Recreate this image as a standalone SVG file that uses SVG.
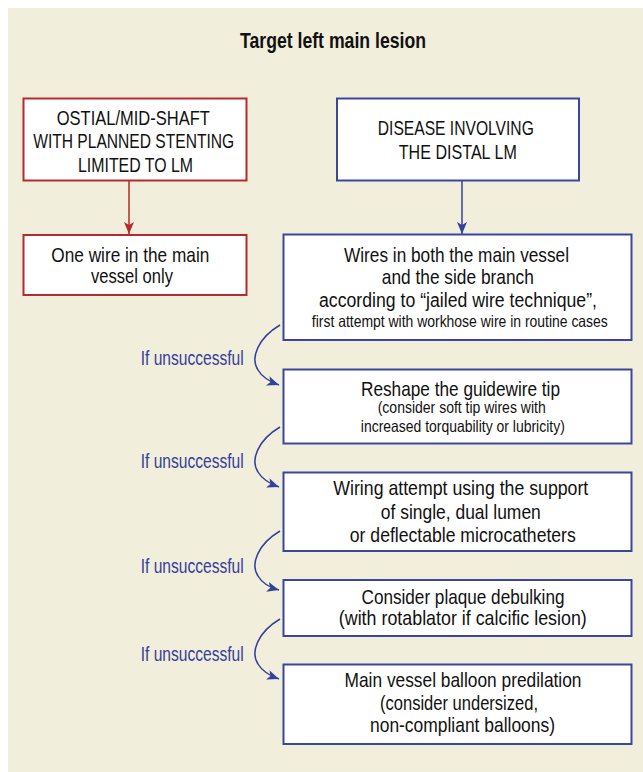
<svg xmlns="http://www.w3.org/2000/svg" width="643" height="772" viewBox="0 0 643 772">
<style>
.bg{fill:#f2eedc}
.box{fill:#ffffff;stroke-width:2}
.rb{stroke:#b52a2e}
.bb{stroke:#3a479c}
text{font-family:"Liberation Sans Narrow","Liberation Sans",Arial,sans-serif;fill:#111;text-anchor:middle}
.t{font-size:21px}
.s{font-size:16.5px}
.title{font-size:21.5px;font-weight:bold}
.lbl{font-size:19.5px;fill:#34409a;text-anchor:start}
.cb{fill:none;stroke:#34409a;stroke-width:1.5}
.cr{fill:none;stroke:#b52a2e;stroke-width:1.5}
</style>
<defs>
<marker id="ab" viewBox="0 0 12 10" refX="12" refY="5" markerWidth="12" markerHeight="10" markerUnits="userSpaceOnUse" orient="auto"><path d="M0,0 L12,5 L0,10 L3,5 z" fill="#34409a"/></marker>
<marker id="ar" viewBox="0 0 12 10" refX="12" refY="5" markerWidth="12" markerHeight="10" markerUnits="userSpaceOnUse" orient="auto"><path d="M0,0 L12,5 L0,10 L3,5 z" fill="#b52a2e"/></marker>
</defs>
<rect class="bg" x="8" y="8" width="635" height="764"/>
<text class="title" x="333" y="48" textLength="186" lengthAdjust="spacingAndGlyphs">Target left main lesion</text>

<g id="ostial">
<rect class="box rb" x="23.5" y="98.5" width="223" height="82"/>
<text class="t" x="133.3" y="125" textLength="153" lengthAdjust="spacingAndGlyphs">OSTIAL/MID-SHAFT</text>
<text class="t" x="133.7" y="148.3" textLength="201" lengthAdjust="spacingAndGlyphs">WITH PLANNED STENTING</text>
<text class="t" x="135.5" y="171.7" textLength="115" lengthAdjust="spacingAndGlyphs">LIMITED TO LM</text>
</g>
<g id="onewire">
<rect class="box rb" x="23.5" y="235" width="223" height="60"/>
<text class="t" x="130.3" y="261.7" textLength="158" lengthAdjust="spacingAndGlyphs">One wire in the main</text>
<text class="t" x="132" y="283" textLength="82" lengthAdjust="spacingAndGlyphs">vessel only</text>
</g>
<g id="distal">
<rect class="box bb" x="337" y="98.5" width="242" height="82"/>
<text class="t" x="455.8" y="135" textLength="156" lengthAdjust="spacingAndGlyphs">DISEASE INVOLVING</text>
<text class="t" x="457.8" y="159" textLength="118" lengthAdjust="spacingAndGlyphs">THE DISTAL LM</text>
</g>
<g id="wires">
<rect class="box bb" x="283.5" y="234.5" width="348" height="105.5"/>
<text class="t" x="456.5" y="261.7" textLength="225" lengthAdjust="spacingAndGlyphs">Wires in both the main vessel</text>
<text class="t" x="457.8" y="284" textLength="152" lengthAdjust="spacingAndGlyphs">and the side branch</text>
<text class="t" transform="translate(458,306.7) scale(0.8,1)" x="0" y="0" textLength="347.5" lengthAdjust="spacingAndGlyphs">according to “jailed wire technique”,</text>
<text class="s" transform="translate(459.8,326.7) scale(0.8,1)" x="0" y="0" textLength="370" lengthAdjust="spacingAndGlyphs">first attempt with workhose wire in routine cases</text>
</g>
<g id="reshape">
<rect class="box bb" x="283.5" y="369.5" width="348" height="74"/>
<text class="t" x="460.5" y="396" textLength="199" lengthAdjust="spacingAndGlyphs">Reshape the guidewire tip</text>
<text class="s" x="461.7" y="413.3" textLength="168" lengthAdjust="spacingAndGlyphs">(consider soft tip wires with</text>
<text class="s" x="462.8" y="431.7" textLength="204" lengthAdjust="spacingAndGlyphs">increased torquability or lubricity)</text>
</g>
<g id="wiring">
<rect class="box bb" x="283.5" y="472.5" width="348" height="78.5"/>
<text class="t" x="460.8" y="495" textLength="255" lengthAdjust="spacingAndGlyphs">Wiring attempt using the support</text>
<text class="t" x="460.8" y="519" textLength="160" lengthAdjust="spacingAndGlyphs">of single, dual lumen</text>
<text class="t" x="462.8" y="541.7" textLength="226" lengthAdjust="spacingAndGlyphs">or deflectable microcatheters</text>
</g>
<g id="plaque">
<rect class="box bb" x="283.5" y="580" width="348" height="56"/>
<text class="t" x="463" y="604" textLength="203" lengthAdjust="spacingAndGlyphs">Consider plaque debulking</text>
<text class="t" x="462.8" y="625" textLength="248" lengthAdjust="spacingAndGlyphs">(with rotablator if calcific lesion)</text>
</g>
<g id="balloon">
<rect class="box bb" x="283.5" y="664.5" width="348" height="79.5"/>
<text class="t" x="463" y="687.3" textLength="237" lengthAdjust="spacingAndGlyphs">Main vessel balloon predilation</text>
<text class="t" x="459" y="710" textLength="158" lengthAdjust="spacingAndGlyphs">(consider undersized,</text>
<text class="t" x="462.5" y="731.7" textLength="185" lengthAdjust="spacingAndGlyphs">non-compliant balloons)</text>
</g>

<g id="connectors">
<line class="cr" x1="129" y1="181" x2="129" y2="234" marker-end="url(#ar)"/>
<line class="cb" x1="462" y1="181" x2="462" y2="234" marker-end="url(#ab)"/>
<path class="cb" d="M280,325 C258,338 250,358 258,370 C262,377 268,381 279,385" marker-end="url(#ab)"/>
<path class="cb" d="M280,427 C258,440 250,460 258,472 C262,479 268,483 279,487" marker-end="url(#ab)"/>
<path class="cb" d="M280,531 C258,544 250,564 258,576 C262,583 268,587 279,590" marker-end="url(#ab)"/>
<path class="cb" d="M280,619 C258,632 250,652 258,664 C262,671 268,675 279,679" marker-end="url(#ab)"/>
<text class="lbl" x="140.7" y="365" textLength="103" lengthAdjust="spacingAndGlyphs">If unsuccessful</text>
<text class="lbl" x="140.7" y="468" textLength="103" lengthAdjust="spacingAndGlyphs">If unsuccessful</text>
<text class="lbl" x="140.7" y="573.3" textLength="103" lengthAdjust="spacingAndGlyphs">If unsuccessful</text>
<text class="lbl" x="140.7" y="660.7" textLength="103" lengthAdjust="spacingAndGlyphs">If unsuccessful</text>
</g>
</svg>
